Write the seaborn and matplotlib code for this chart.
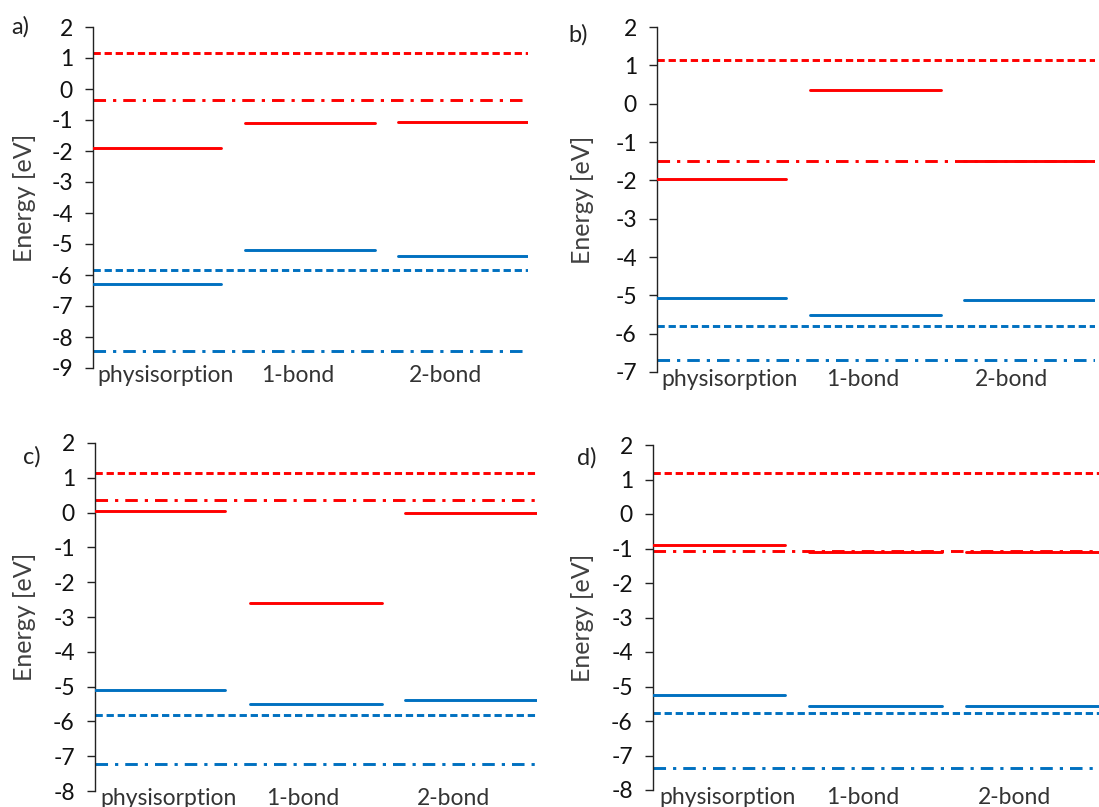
import numpy as np
import pandas as pd
import matplotlib
matplotlib.use("Agg")
import matplotlib.pyplot as plt
import matplotlib.transforms as mtransforms
import seaborn as sns

# ---------------- data ----------------
categories = ["physisorption", "1-bond", "2-bond"]
panel_labels = ["a)", "b)", "c)", "d)"]

lumo_a = [-1.89, -1.10, -1.05]
homo_a = [-6.28, -5.20, -5.39]
ref_a = [1.16, -0.34, -5.83, -8.46]   # LUMO dashed, LUMO dash-dot, HOMO dashed, HOMO dash-dot

lumo_b = [-1.96, 0.36, -1.49]
homo_b = [-5.07, -5.50, -5.11]
ref_b = [1.15, -1.49, -5.79, -6.69]

lumo_c = [0.04, -2.59, -0.01]
homo_c = [-5.09, -5.50, -5.38]
ref_c = [1.15, 0.36, -5.81, -7.21]

lumo_d = [-0.91, -1.10, -1.10]
homo_d = [-5.25, -5.57, -5.57]
ref_d = [1.18, -1.06, -5.77, -7.37]

ylims = [(-9, 2), (-7, 2), (-8, 2), (-8, 2)]

# ---------------- style ----------------
sns.set_theme(style="white")
plt.rcParams["font.family"] = ["Lato", "DejaVu Sans"]
plt.rcParams["axes.unicode_minus"] = False

RED = "#FF0000"
BLUE = "#0070C0"
LW = 2.1
DASHED = (0, (2.5, 1.3))
DASHDOT = (0, (4.3, 2.4, 1.1, 2.4))

spans = [(0.0, 0.885), (1.05, 1.945), (2.105, 3.0)]
label_x = [0.50, 1.41, 2.43]

fig = plt.figure(figsize=(10.99, 8.07), dpi=100)
rects = [
    [93 / 1099, 1 - 368 / 807, 435 / 1099, 341 / 807],
    [657 / 1099, 1 - 372 / 807, 438 / 1099, 345 / 807],
    [95 / 1099, 1 - 791 / 807, 442 / 1099, 348 / 807],
    [653 / 1099, 1 - 790 / 807, 446 / 1099, 345 / 807],
]
panel_pos = [(20, 27), (578, 35), (32, 457), (587, 458)]
ylabel_off = [68, 74, 70, 71]

data = [(lumo_a, homo_a, ref_a), (lumo_b, homo_b, ref_b),
        (lumo_c, homo_c, ref_c), (lumo_d, homo_d, ref_d)]

for k, (rect, (lumo, homo, ref)) in enumerate(zip(rects, data)):
    ax = fig.add_axes(rect)
    # reference levels
    ax.axhline(ref[0], color=RED, lw=LW, linestyle=DASHED, zorder=2)
    ax.axhline(ref[1], color=RED, lw=LW, linestyle=DASHDOT, zorder=2)
    ax.axhline(ref[2], color=BLUE, lw=LW, linestyle=DASHED, zorder=2)
    ax.axhline(ref[3], color=BLUE, lw=LW, linestyle=DASHDOT, zorder=2)

    rows = []
    for i, cat in enumerate(categories):
        x0, x1 = spans[i]
        for orb, vals in (("LUMO", lumo), ("HOMO", homo)):
            rows.append({"x": x0, "E": vals[i], "orbital": orb, "unit": f"{orb}{i}"})
            rows.append({"x": x1, "E": vals[i], "orbital": orb, "unit": f"{orb}{i}"})
    df = pd.DataFrame(rows)
    sns.lineplot(data=df, x="x", y="E", hue="orbital", units="unit",
                 estimator=None, sort=False, legend=False,
                 palette={"LUMO": RED, "HOMO": BLUE}, linewidth=LW, ax=ax, zorder=3)

    lo, hi = ylims[k]
    ax.set_xlim(0, 3)
    ax.set_ylim(lo, hi)
    ax.set_yticks(np.arange(lo, hi + 1, 1))
    ax.set_xticks([])
    ax.set_xlabel("")
    ax.set_ylabel("Energy [eV]", fontsize=18, color="#404040", va="center")
    w_px = rect[2] * 1099
    ax.yaxis.set_label_coords(-ylabel_off[k] / w_px, 0.5)
    for s in ("top", "right", "bottom"):
        ax.spines[s].set_visible(False)
    ax.spines["left"].set_color("#222222")
    ax.spines["left"].set_linewidth(1.0)
    ax.tick_params(axis="y", direction="out", length=5.5, width=1.0,
                   color="#222222", pad=9, labelsize=16.5, labelcolor="#111111", left=True)
    ax.patch.set_alpha(0)

    up = mtransforms.ScaledTranslation(0, 3 / 100, fig.dpi_scale_trans)
    for i, cat in enumerate(categories):
        ax.text(label_x[i], lo, cat, ha="center", va="top", fontsize=16.5,
                color="#333333", transform=ax.transData + up)

    px, py = panel_pos[k]
    fig.text(px / 1099, 1 - py / 807, panel_labels[k], ha="center", va="center",
             fontsize=17, color="#222222")

fig.savefig("out.png", dpi=100)
